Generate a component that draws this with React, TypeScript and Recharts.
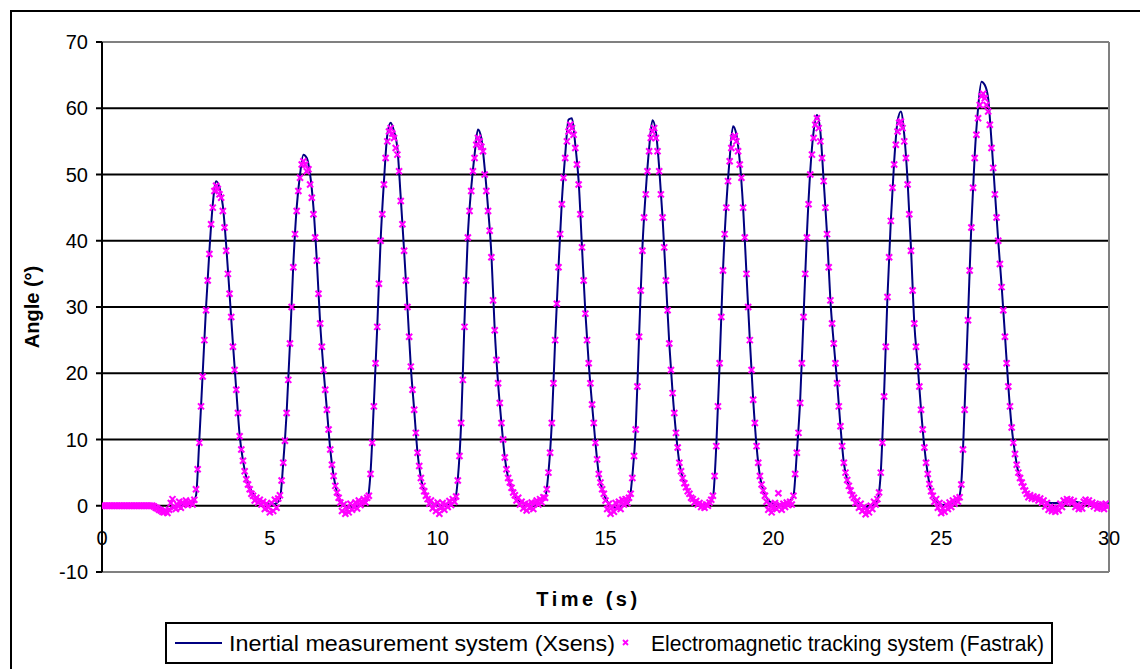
import { CartesianGrid, ComposedChart, Label, Line, ReferenceLine, Scatter, XAxis, YAxis } from "recharts";

const X_TICKS = [0, 5, 10, 15, 20, 25, 30];
const Y_TICKS = [-10, 0, 10, 20, 30, 40, 50, 60, 70];

// Xsens angle (deg), one value every 0.1 s, 0 .. 30 s (one row per second)
const XSENS_STEP = 0.1;
const XSENS = [
  0, 0, 0, 0, 0, 0, 0, 0, 0, 0,
  0, 0, 0, 0, 0, 0, -0.1, -0.3, -0.5, -0.6,
  -0.5, -0.3, -0.2, 0, 0.1, 0.2, 0.3, 0.4, 1.5, 10,
  20, 30, 38.5, 45.5, 49, 48, 45.3, 39.3, 32, 24.5,
  17.5, 10.7, 6.8, 4.3, 2.8, 1.8, 1.2, 0.8, 0.5, 0.3,
  0.2, 0.2, 0.4, 1.0, 6.5, 14, 24.5, 36.5, 45, 50,
  53, 52.5, 50, 45, 37, 27.5, 20.5, 14.5, 8.5, 4.5,
  2, 0.8, 0.2, -0.2, -0.3, -0.2, 0, 0.2, 0.4, 0.8,
  5, 15.5, 27, 40, 49, 56, 57.8, 56.5, 54, 46.5,
  38.5, 30, 21, 14.5, 8, 4.2, 2.2, 1.2, 0.6, 0.2,
  0, -0.1, 0, 0.1, 0.3, 0.6, 4, 12.5, 28, 41,
  48, 53, 56.8, 55.5, 51, 45, 38, 26.5, 18.5, 12.5,
  7.3, 4.2, 2.7, 1.6, 0.9, 0.5, 0.2, 0, 0, 0.1,
  0.3, 0.6, 1.2, 5, 12.5, 25, 36, 46, 53, 58.3,
  58.5, 54.5, 49, 39, 29.2, 21.5, 15.3, 9.5, 4.8, 2.5,
  1.2, 0.3, -0.2, -0.3, -0.2, 0, 0.2, 0.6, 4.5, 11.5,
  25.5, 39, 47.5, 54, 58.2, 56.5, 51, 43.5, 34, 24.5,
  17, 11, 6.5, 4.2, 2.8, 1.8, 1.0, 0.5, 0.2, 0.1,
  0.1, 0.4, 1.2, 9, 21.5, 35.5, 45.5, 52.5, 57.3, 56,
  52, 45, 35, 25, 16, 9, 4.5, 2.3, 1.2, 0.6,
  0.3, 0.2, 0.2, 0.3, 0.5, 0.7, 1.5, 8, 16, 28.5,
  41, 50.5, 56.5, 59, 56.5, 49, 41, 31, 24.5, 18.7,
  12, 6.5, 3.9, 2.3, 1.3, 0.6, 0.2, -0.1, -0.2, -0.1,
  0.2, 0.8, 5, 17, 31.5, 43, 52, 58, 59.5, 56,
  49, 39, 27.5, 21.3, 14.5, 8.8, 4.8, 2.2, 1.1, 0.5,
  0.2, 0.1, 0.2, 0.4, 0.6, 0.8, 3.5, 15, 28.5, 42.5,
  53, 60, 64, 63.5, 61.5, 55, 47.5, 40, 33.3, 25.8,
  18.1, 11.9, 7.9, 5, 3.5, 2.4, 1.6, 1.3, 1.1, 0.9,
  0.7, 0.6, 0.5, 0.4, 0.4, 0.4, 0.5, 0.6, 0.7, 0.7,
  0.6, 0.5, 0.4, 0.4, 0.5, 0.5, 0.4, 0.3, 0.3, 0.4,
  0.5,
];

// Fastrak angle (deg), one value every 0.05 s, 0 .. 29.95 s (one row per second)
const FASTRAK_STEP = 0.05;
const FASTRAK = [
  0, 0, 0, 0, 0, 0, 0, 0, 0, 0, 0, 0, 0, 0, 0, 0, 0, 0, 0, 0,
  0, 0, 0, 0, 0, 0, 0, 0, 0, 0, 0, -0.1, -0.3, -0.4, -0.6, -0.7, -0.9, -1.0, -0.8, -1.1,
  -0.6, 0.4, 1.0, -0.2, -0.5, 0.1, 0.6, -0.3, 0.5, 0.2, 0.8, 0.1, 0.4, 0.6, 0.2, 0.9, 2.5, 5.5, 9.5, 15,
  19.5, 25, 29.5, 34, 38, 42.5, 45, 47.5, 48.3, 47.8, 47, 46.5, 44.5, 42, 38.5, 35, 32, 28.5, 24, 20.5,
  17.5, 14, 10.5, 8.5, 6.8, 5.2, 4, 3.2, 2.5, 1.8, 1.5, 0.8, 1.2, 0.5, 0.9, 0.2, 0.6, -0.5, 0.3, -0.2,
  -1.0, 0.4, -0.8, 0.9, -0.3, 1.1, 1.6, 3.8, 6.5, 9.8, 14, 19, 24.5, 30, 36, 41, 44.5, 47.5, 49.5, 51.5,
  52, 51.5, 50.5, 50.8, 48.5, 46.5, 44, 40.5, 37, 32, 27.5, 24, 20.5, 17.5, 14.5, 11.5, 8.5, 6.2, 4.5, 3,
  2, 1.2, 0.5, -0.8, 0.2, -1.2, -0.5, -1.0, 0.3, -0.6, -0.2, 0.5, -0.4, 0.8, 0.1, 0.6, 1.0, 0.5, 1.2, 1.5,
  4.8, 9.5, 15, 21.5, 27, 33.5, 40, 44, 48.5, 52.5, 55, 56.5, 57, 56.2, 55.5, 54, 53, 50.5, 46, 42.5,
  38.5, 34, 30, 25.5, 21, 17.5, 14.5, 11, 8, 6, 4.2, 3, 2.2, 1.5, 1.0, 0.3, 0.8, -0.4, 0.2, -0.8,
  0.5, -1.2, -0.3, 0.4, -0.6, 0.2, -0.2, 0.7, 0.1, 1.0, 0.6, 1.4, 3.8, 7.5, 12.5, 19, 27, 34, 40.5, 44.5,
  47.5, 50.5, 52.5, 54.5, 55.5, 55, 54.2, 53.5, 50, 47.5, 44.5, 41.5, 37.5, 31, 26.5, 22, 18.5, 15.5, 12.5, 10,
  7.3, 5.5, 4.2, 3.5, 2.7, 2.0, 1.6, 0.8, 1.2, 0.2, 0.6, -0.4, 0.3, -0.7, 0.2, -0.3, 0.5, -0.5, 0.4, 0.8,
  0.2, 1.0, 0.5, 1.3, 1.2, 2.5, 5, 8, 12.5, 18.5, 25, 30.5, 36, 41, 45.5, 49.5, 52.5, 55, 56.5, 57.5,
  57, 56, 54, 51.5, 48.5, 44, 39, 34, 29, 25, 21.5, 18.5, 15.3, 12.5, 9.5, 7, 4.8, 3.5, 2.5, 1.8,
  0.8, -0.5, 0.3, -1.2, -0.2, -0.9, 0.4, -0.3, 0.6, -0.5, 0.9, 0.2, 1.0, 0.4, 1.2, 1.8, 4.2, 7.5, 11.5, 18,
  25.5, 32.5, 38.5, 43.5, 47, 50.5, 53.5, 55.5, 56.5, 57, 55.5, 53.5, 50.5, 47, 43.5, 39, 34, 29.5, 24.5, 20.5,
  17, 14, 11, 8.8, 6.5, 5.2, 4.2, 3.4, 2.8, 2.2, 1.8, 1.2, 1.0, 0.5, 0.7, 0.2, 0.4, -0.2, 0.1, -0.3,
  0.2, 0.0, 0.5, 0.9, 1.5, 4.5, 9, 15, 21.5, 28.5, 35.5, 41, 45, 49, 52, 54, 55.5, 55.8, 55, 53.5,
  51.5, 49.5, 45, 40.5, 35, 30, 25, 20.5, 16, 12.5, 9, 6.5, 4.5, 3.2, 2.3, 1.5, 0.6, -0.6, 0.2, -1.0,
  -0.3, 0.4, -0.5, 1.9, 0.1, -0.6, 0.3, -0.2, 0.5, 0.1, 0.6, 0.2, 1.5, 4.8, 8, 11, 15.5, 21.5, 28.5, 35,
  40.5, 45.5, 50, 53, 55.5, 57.5, 58.5, 57, 55, 52.5, 49, 45, 41, 36, 31, 27.5, 24.5, 21.5, 18.5, 15,
  12, 9, 6.5, 5, 3.9, 3, 2.3, 1.6, 1.2, 0.4, 0.8, -0.3, 0.3, -0.8, -0.2, -1.3, -0.6, -1.0, 0.0, -0.5,
  0.6, 0.2, 1.0, 2.0, 5, 9.5, 16.5, 24, 31.5, 37.5, 43, 48, 51.5, 54.5, 56.5, 57.8, 58, 57, 55, 52.5,
  48.5, 44, 38.5, 32.5, 27.5, 24, 21, 18, 14.5, 11.5, 8.8, 6.5, 4.8, 3.3, 2.2, 1.5, 0.6, 1.0, -0.3, 0.4,
  -1.1, -0.4, -0.9, 0.2, -0.5, 0.5, -0.2, 0.8, 0.3, 1.1, 0.6, 1.3, 3.2, 8.5, 14.5, 21, 28, 35.5, 42, 48,
  52.5, 56, 58.5, 60.5, 61.8, 62.2, 61.5, 60.5, 59.5, 57.5, 54, 51, 47, 43.5, 40, 36.5, 33, 29.5, 25.5, 21.5,
  18, 15, 11.8, 9.5, 7.8, 6.2, 5, 4.2, 3.5, 2.9, 2.3, 1.8, 1.3, 1.6, 1.1, 1.4, 1.0, 1.3, 0.8, 1.1,
  0.5, 0.8, -0.1, 0.4, -0.6, -0.2, -0.8, -0.3, -0.9, -0.4, -0.7, 0.3, -0.2, 0.8, 0.5, 1.0, 0.6, 0.9, 0.4, 0.7,
  -0.2, 0.1, -0.5, -0.1, -0.4, 0.6, 0.9, 0.5, 0.8, 0.2, 0.5, -0.1, 0.3, -0.4, 0.1, -0.3, 0.2, -0.5, 0.3, -0.2,
];

const xsensRows = XSENS.map((v, i) => ({ t: +(i * XSENS_STEP).toFixed(2), v }));
const fastrakRows = FASTRAK.map((v, i) => ({ t: +(i * FASTRAK_STEP).toFixed(2), v }));

const FONT = "Arial, 'Liberation Sans', sans-serif";
const NAVY = "#000080";
const MAGENTA = "#ff00ff";

const W = 1140;
const H = 669;
const MARGIN = { top: 42, right: 31, bottom: 67, left: 12 };
const Y_AXIS_W = 90;
const X_AXIS_H = 30;
const Y_MIN = -10;
const Y_MAX = 70;
const PLOT_H = H - MARGIN.top - MARGIN.bottom - X_AXIS_H;
// the time labels sit under the zero line, not under the plot bottom
const ZERO_LIFT = (PLOT_H * (0 - Y_MIN)) / (Y_MAX - Y_MIN);

function TimeTick(props: any) {
  const { x, y, payload } = props;
  return (
    <text x={x} y={y - ZERO_LIFT + 39} textAnchor="middle" fill="#000" fontSize={20} fontFamily={FONT}>
      {payload.value}
    </text>
  );
}

function Cross(props: any) {
  const { cx, cy } = props;
  if (cx == null || cy == null) return null;
  const r = 3;
  return (
    <path
      d={`M${cx - r},${cy - r}L${cx + r},${cy + r}M${cx - r},${cy + r}L${cx + r},${cy - r}`}
      stroke={MAGENTA}
      strokeWidth={2.1}
      fill="none"
    />
  );
}

// legend text is drawn narrow and tall, so each line is stretched vertically
function LegendBox() {
  return (
    <svg
      width={888}
      height={42}
      style={{ position: "absolute", left: 165, top: 622, fontFamily: FONT }}
    >
      <rect x={1} y={1} width={886} height={40} fill="#fff" stroke="#000" strokeWidth={2} />
      <line x1={10} y1={21} x2={57} y2={21} stroke={NAVY} strokeWidth={2} />
      <g transform="translate(0 29) scale(1 1.12)">
        <text x={64} y={0} fontSize={20} fill="#000" textLength={386} lengthAdjust="spacingAndGlyphs">
          Inertial measurement system (Xsens)
        </text>
      </g>
      <path d="M458,18L463,23M458,23L463,18" stroke={MAGENTA} strokeWidth={1.8} />
      <g transform="translate(0 29) scale(1 1.12)">
        <text x={486} y={0} fontSize={20} fill="#000" textLength={393} lengthAdjust="spacingAndGlyphs">
          Electromagnetic tracking system (Fastrak)
        </text>
      </g>
    </svg>
  );
}

export default function App() {
  return (
    <div style={{ position: "absolute", left: 0, top: 0, width: W, height: H, overflow: "hidden", background: "#fff" }}>
      <div
        style={{
          position: "absolute",
          left: 10,
          top: 10,
          width: W,
          height: H + 40,
          borderLeft: "2px solid #000",
          borderTop: "2px solid #000",
        }}
      />
      <div style={{ position: "absolute", left: 0, top: 0 }}>
        <ComposedChart width={W} height={H} margin={MARGIN} style={{ fontFamily: FONT }}>
          <CartesianGrid horizontal vertical={false} stroke="#000" strokeWidth={2} />
          <XAxis
            type="number"
            dataKey="t"
            domain={[0, 30]}
            ticks={X_TICKS}
            allowDataOverflow
            height={X_AXIS_H}
            axisLine={false}
            tickLine={false}
            tickSize={0}
            tickMargin={0}
            tick={<TimeTick />}
            interval={0}
          >
            <Label
              content={({ viewBox }: any) => (
                <text
                  x={viewBox.x + viewBox.width / 2 - 17}
                  y={viewBox.y + 34}
                  textAnchor="middle"
                  fontSize={20}
                  fontWeight="bold"
                  letterSpacing={3.5}
                  fontFamily={FONT}
                  fill="#000"
                >
                  Time (s)
                </text>
              )}
            />
          </XAxis>
          <YAxis
            type="number"
            dataKey="v"
            domain={[Y_MIN, Y_MAX]}
            ticks={Y_TICKS}
            width={Y_AXIS_W}
            allowDataOverflow
            interval={0}
            axisLine={{ stroke: "#000", strokeWidth: 2 }}
            tickLine={{ stroke: "#000", strokeWidth: 2 }}
            tickSize={6}
            tickMargin={8}
            tick={{ fill: "#000", fontSize: 20, fontFamily: FONT }}
          >
            <Label
              content={({ viewBox }: any) => {
                const cx = viewBox.x + 20;
                const cy = viewBox.y + viewBox.height / 2;
                return (
                  <text
                    x={cx}
                    y={cy}
                    transform={`rotate(-90 ${cx} ${cy})`}
                    textAnchor="middle"
                    dominantBaseline="central"
                    fontSize={20}
                    fontWeight="bold"
                    fontFamily={FONT}
                    fill="#000"
                  >
                    Angle (°)
                  </text>
                );
              }}
            />
          </YAxis>
          <ReferenceLine y={Y_MAX} stroke="#808080" strokeWidth={2} />
          <ReferenceLine y={Y_MIN} stroke="#808080" strokeWidth={2} />
          <ReferenceLine x={30} stroke="#808080" strokeWidth={2} />
          <Line
            data={xsensRows}
            dataKey="v"
            type="monotone"
            stroke={NAVY}
            strokeWidth={2}
            dot={false}
            activeDot={false}
            isAnimationActive={false}
          />
          <Scatter data={fastrakRows} dataKey="v" shape={<Cross />} isAnimationActive={false} />
        </ComposedChart>
      </div>
      <LegendBox />
    </div>
  );
}
